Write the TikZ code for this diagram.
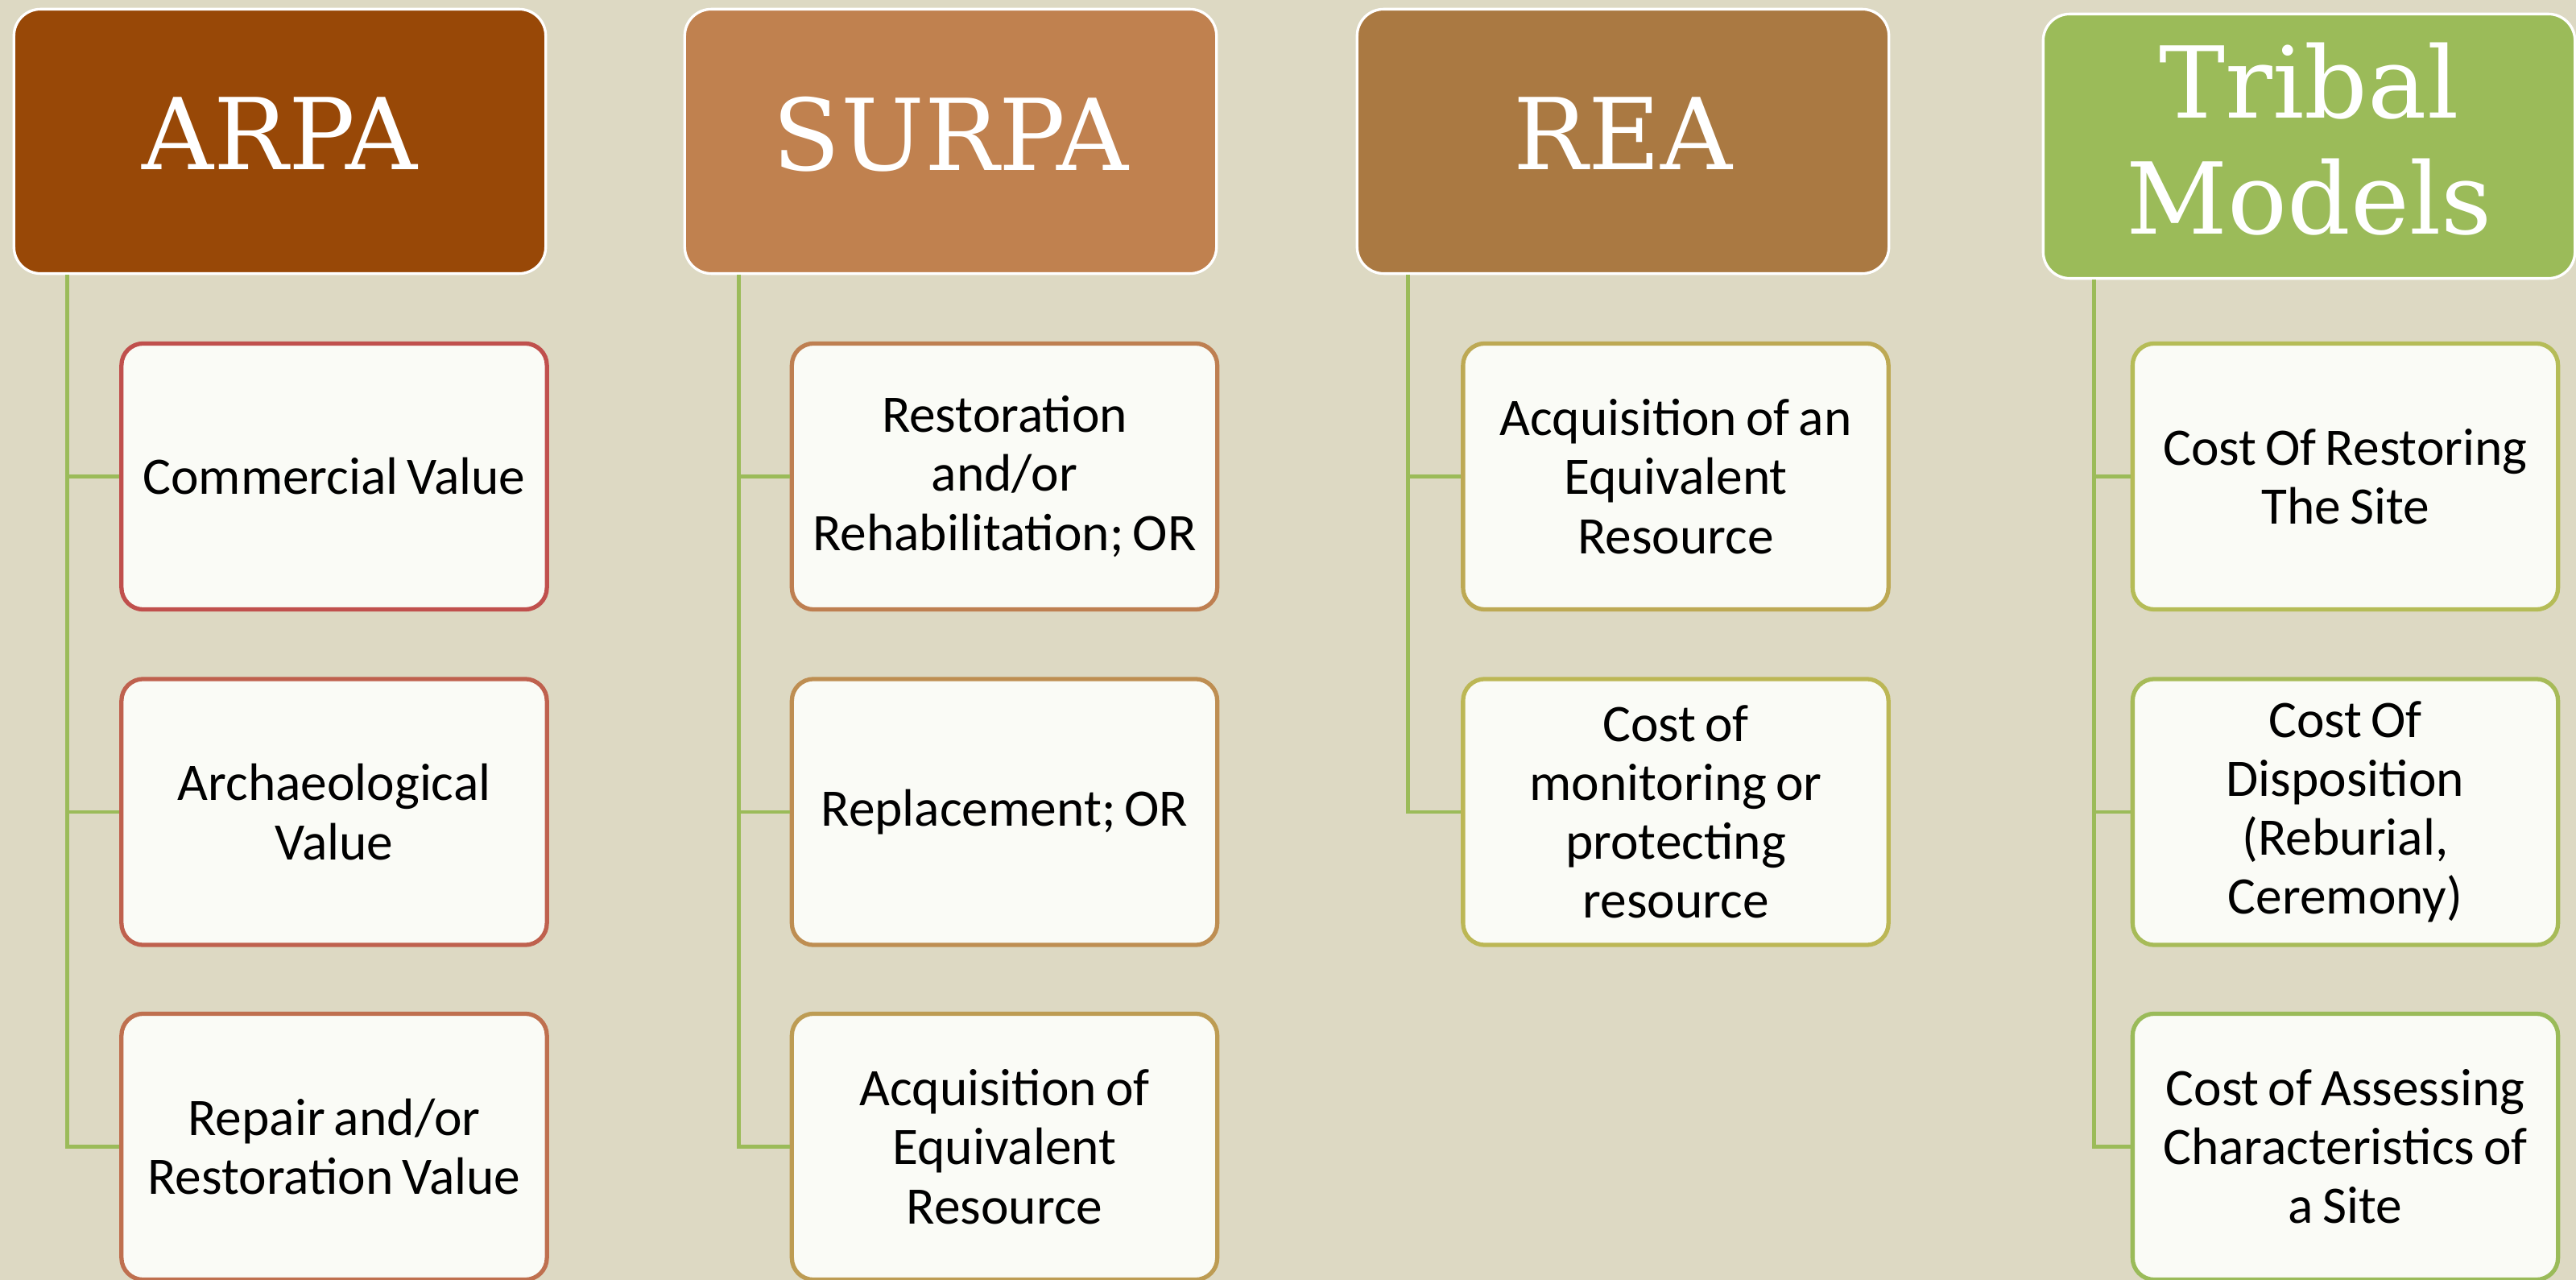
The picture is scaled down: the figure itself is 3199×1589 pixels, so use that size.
\documentclass[tikz,border=0pt]{standalone}
\usepackage{fontspec}
\setmainfont{Carlito}
\newfontfamily\headfont{DejaVu Serif}
\usetikzlibrary{positioning}

% header fills
\definecolor{bgpaper}{HTML}{DDD9C3}
\definecolor{cardfill}{HTML}{FAFBF6}
\definecolor{hARPA}{HTML}{984807}
\definecolor{hSURPA}{HTML}{C0814F}
\definecolor{hREA}{HTML}{AA7942}
\definecolor{hTRIBAL}{HTML}{9BBB59}
\definecolor{trunk}{HTML}{9BBB59}
% card outlines, shading from red to green
\definecolor{k0}{HTML}{C0504D}
\definecolor{k1}{HTML}{BF614E}
\definecolor{k2}{HTML}{BF704F}
\definecolor{k3}{HTML}{BE7F51}
\definecolor{k4}{HTML}{BE8E52}
\definecolor{k5}{HTML}{BD9C53}
\definecolor{k6}{HTML}{BDA954}
\definecolor{k7}{HTML}{BCB755}
\definecolor{k8}{HTML}{B5BC57}
\definecolor{k9}{HTML}{A7BB58}
\definecolor{k10}{HTML}{9ABB59}

\tikzset{
  header/.style={draw=white, line width=0.95pt, rounded corners=0.33cm,
    minimum width=6.6cm, minimum height=3.28cm, inner sep=0pt,
    text=white, align=center, text depth=0.2cm,
    font=\headfont\fontsize{35}{41}\selectfont},
  card/.style={draw=#1, fill=cardfill, line width=1.5pt, rounded corners=0.27cm,
    minimum width=5.28cm, minimum height=3.3cm, inner sep=0pt,
    text=black, align=center, text width=5.1cm,
    font=\fontsize{18.6}{20.8}\selectfont,
    execute at begin node={\spaceskip=0.17em\relax}},
  conn/.style={draw=trunk, line width=1.4pt, line join=miter}
}

\begin{document}
\begin{tikzpicture}[x=0.01cm, y=-0.01cm]
  \fill[bgpaper] (0,0) rectangle (3199,1589);
  \useasboundingbox (0,0) rectangle (3199,1589);

  % column headers
  \node[header, fill=hARPA]   (hA) at (347.5,175.5) {ARPA};
  \node[header, fill=hSURPA]  (hS) at (1180.5,175.5) {SURPA};
  \node[header, fill=hREA]    (hR) at (2015.5,175.5) {REA};
  \node[header, fill=hTRIBAL] (hT) at (2867.5,181.5) {Tribal\\Models};

  % ARPA
  \node[card=k0] (a1) at (415,591.5)  {Commercial Value};
  \node[card=k1] (a2) at (415,1008)   {Archaeological\\Value};
  \node[card=k2] (a3) at (415,1423.5) {Repair and/or\\Restoration Value};

  % SURPA
  \node[card=k3] (s1) at (1247.5,591.5)  {Restoration\\and/or\\Rehabilitation; OR};
  \node[card=k4] (s2) at (1247.5,1008)   {Replacement; OR};
  \node[card=k5] (s3) at (1247.5,1423.5) {Acquisition of\\Equivalent\\Resource};

  % REA
  \node[card=k6] (r1) at (2081,591.5) {Acquisition of an\\Equivalent\\Resource};
  \node[card=k7] (r2) at (2081,1008)  {Cost of\\monitoring or\\protecting\\resource};

  % Tribal models
  \node[card=k8]  (t1) at (2912.5,591.5)  {Cost Of Restoring\\The Site};
  \node[card=k9]  (t2) at (2912.5,1008)   {Cost Of\\Disposition\\(Reburial,\\Ceremony)};
  \node[card=k10] (t3) at (2912.5,1423.5) {Cost of Assessing\\Characteristics of\\a Site};

  % trunks and branches
  \coordinate (ta) at ([xshift=0.68cm]hA.south west);
  \coordinate (ts) at ([xshift=0.69cm]hS.south west);
  \coordinate (tr) at ([xshift=0.65cm]hR.south west);
  \coordinate (tt) at ([xshift=0.65cm]hT.south west);

  \foreach \c in {a1,a2,a3} \draw[conn] (ta) |- (\c.west);
  \foreach \c in {s1,s2,s3} \draw[conn] (ts) |- (\c.west);
  \foreach \c in {r1,r2}    \draw[conn] (tr) |- (\c.west);
  \foreach \c in {t1,t2,t3} \draw[conn] (tt) |- (\c.west);
\end{tikzpicture}
\end{document}
